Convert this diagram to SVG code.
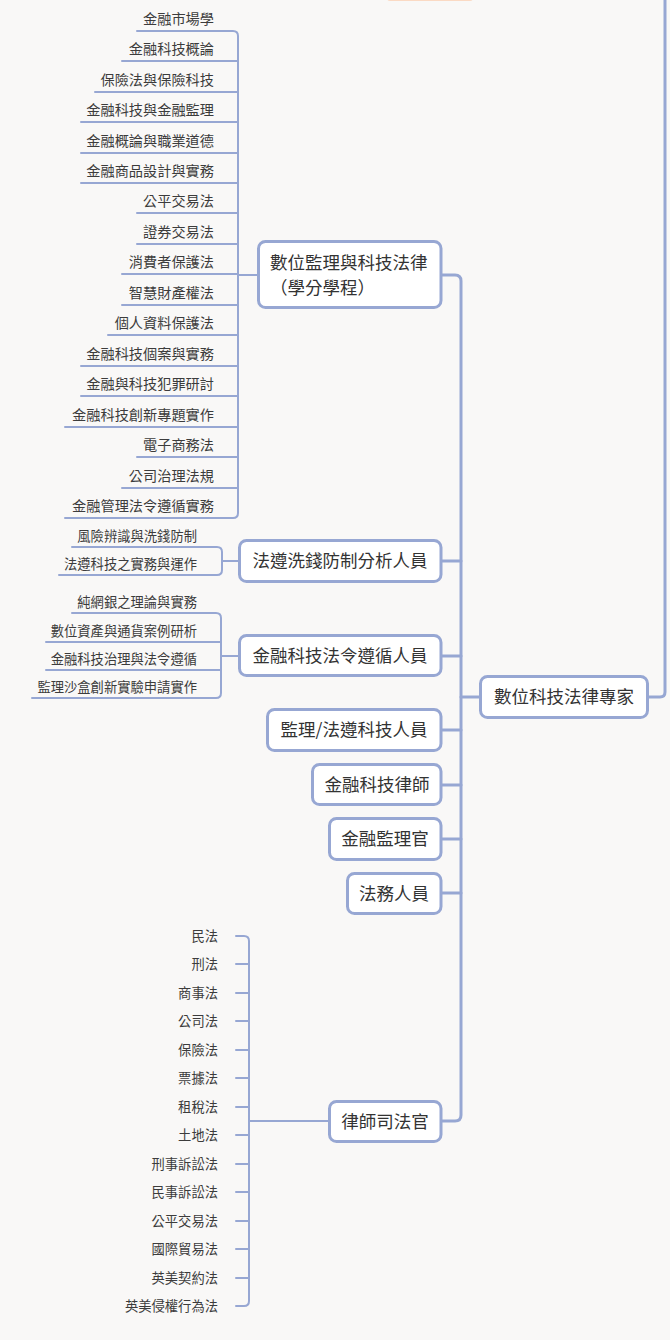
<svg xmlns="http://www.w3.org/2000/svg" width="670" height="1340" viewBox="0 0 670 1340">
<style>
.bg{fill:#F9F8F7}
.box{fill:#FFFFFF;stroke:#97A7D3;stroke-width:3}
.ln{fill:none;stroke:#97A7D3;stroke-width:2;stroke-linecap:round;stroke-linejoin:round}
.tk{fill:none;stroke:#97A7D3;stroke-width:3;stroke-linecap:round;stroke-linejoin:round}
.nt{font-family:"Noto Sans CJK TC","Noto Sans CJK SC",sans-serif;font-size:17.5px;fill:#333333}
.l1{font-family:"Noto Sans CJK TC","Noto Sans CJK SC",sans-serif;font-size:14.2px;fill:#3c3c3c;text-anchor:end}
.l2{font-family:"Noto Sans CJK TC","Noto Sans CJK SC",sans-serif;font-size:13.3px;fill:#3c3c3c;text-anchor:end}
</style>
<rect class="bg" x="0" y="0" width="670" height="1340"/>
<rect x="387" y="-10" width="86" height="11" rx="3" fill="#FBDAC4"/>

<g id="connectors">
  <!-- root to parent (off-canvas) -->
  <path class="tk" d="M649,697 H660 Q665,697 665,692 V-5"/>
  <!-- trunk -->
  <path class="tk" d="M441,275 H455 Q461,275 461,281 V1115 Q461,1121 455,1121 H441"/>
  <path class="tk" d="M441,561 H461 M441,656 H461 M441,730 H461 M441,785 H461 M441,839 H461 M441,893 H461 M479,697 H461"/>
  <!-- node 1 leaves -->
  <path class="ln" d="M137,31 H233 Q238,31 238,36 V513 Q238,518 233,518 H65"/>
  <path class="ln" d="M122,61 H238 M95,92 H238 M81,122 H238 M81,153 H238 M81,183 H238 M137,213 H238 M137,244 H238 M122,274 H238 M122,305 H238 M108,335 H238 M81,366 H238 M81,396 H238 M65,427 H238 M137,457 H238 M122,488 H238"/>
  <path class="ln" d="M238,275 H257"/>
  <!-- node 2 leaves -->
  <path class="ln" d="M72,547 H217 Q222,547 222,552 V570 Q222,575 217,575 H59"/>
  <path class="ln" d="M222,561 H238"/>
  <!-- node 3 leaves -->
  <path class="ln" d="M72,613 H216 Q221,613 221,618 V693 Q221,698 216,698 H32"/>
  <path class="ln" d="M46,642 H221 M46,670 H221 M221,656 H238"/>
  <!-- node 8 leaves -->
  <path class="ln" d="M236,936 H244 Q249,936 249,941 V1301 Q249,1306 244,1306 H236"/>
  <path class="ln" d="M236,964 H249 M236,993 H249 M236,1021 H249 M236,1050 H249 M236,1078 H249 M236,1107 H249 M236,1135 H249 M236,1164 H249 M236,1192 H249 M236,1221 H249 M236,1249 H249 M236,1278 H249 M249,1121 H328"/>
</g>

<g id="root">
  <rect class="box" x="480.5" y="676.5" width="167" height="41" rx="7"/>
  <text class="nt" x="564" y="703" text-anchor="middle">數位科技法律專家</text>
</g>

<g id="n1">
  <rect class="box" x="258.5" y="241.5" width="182.5" height="66" rx="7"/>
  <text class="nt" x="270" y="269">數位監理與科技法律</text>
  <text class="nt" x="270" y="294">（學分學程）</text>
</g>
<g id="n2">
  <rect class="box" x="239.5" y="540.5" width="201.5" height="41" rx="7"/>
  <text class="nt" x="340" y="567" text-anchor="middle">法遵洗錢防制分析人員</text>
</g>
<g id="n3">
  <rect class="box" x="239.5" y="635.5" width="201.5" height="40" rx="7"/>
  <text class="nt" x="340" y="662" text-anchor="middle">金融科技法令遵循人員</text>
</g>
<g id="n4">
  <rect class="box" x="267.5" y="709.5" width="173.5" height="41" rx="7"/>
  <text class="nt" x="354" y="736" text-anchor="middle">監理/法遵科技人員</text>
</g>
<g id="n5">
  <rect class="box" x="312.5" y="764.5" width="128.5" height="40" rx="7"/>
  <text class="nt" x="377" y="791" text-anchor="middle">金融科技律師</text>
</g>
<g id="n6">
  <rect class="box" x="329.5" y="818.5" width="111.5" height="41" rx="7"/>
  <text class="nt" x="385" y="845" text-anchor="middle">金融監理官</text>
</g>
<g id="n7">
  <rect class="box" x="347.5" y="873.5" width="93.5" height="40" rx="7"/>
  <text class="nt" x="394" y="900" text-anchor="middle">法務人員</text>
</g>
<g id="n8">
  <rect class="box" x="329.5" y="1101.5" width="111.5" height="40" rx="7"/>
  <text class="nt" x="385" y="1128" text-anchor="middle">律師司法官</text>
</g>

<g id="n1-leaves">
  <text class="l1" x="214" y="24">金融市場學</text>
  <text class="l1" x="214" y="54">金融科技概論</text>
  <text class="l1" x="214" y="85">保險法與保險科技</text>
  <text class="l1" x="214" y="115">金融科技與金融監理</text>
  <text class="l1" x="214" y="146">金融概論與職業道德</text>
  <text class="l1" x="214" y="176">金融商品設計與實務</text>
  <text class="l1" x="214" y="206">公平交易法</text>
  <text class="l1" x="214" y="237">證券交易法</text>
  <text class="l1" x="214" y="267">消費者保護法</text>
  <text class="l1" x="214" y="298">智慧財產權法</text>
  <text class="l1" x="214" y="328">個人資料保護法</text>
  <text class="l1" x="214" y="359">金融科技個案與實務</text>
  <text class="l1" x="214" y="389">金融與科技犯罪研討</text>
  <text class="l1" x="214" y="420">金融科技創新專題實作</text>
  <text class="l1" x="214" y="450">電子商務法</text>
  <text class="l1" x="214" y="481">公司治理法規</text>
  <text class="l1" x="214" y="511">金融管理法令遵循實務</text>
</g>

<g id="n2-leaves">
  <text class="l2" x="197" y="541">風險辨識與洗錢防制</text>
  <text class="l2" x="197" y="569">法遵科技之實務與運作</text>
</g>

<g id="n3-leaves">
  <text class="l2" x="197" y="607">純網銀之理論與實務</text>
  <text class="l2" x="197" y="636">數位資產與通貨案例研析</text>
  <text class="l2" x="197" y="664">金融科技治理與法令遵循</text>
  <text class="l2" x="197" y="692">監理沙盒創新實驗申請實作</text>
</g>

<g id="n8-leaves">
  <text class="l2" x="218" y="941">民法</text>
  <text class="l2" x="218" y="969">刑法</text>
  <text class="l2" x="218" y="998">商事法</text>
  <text class="l2" x="218" y="1026">公司法</text>
  <text class="l2" x="218" y="1055">保險法</text>
  <text class="l2" x="218" y="1083">票據法</text>
  <text class="l2" x="218" y="1112">租稅法</text>
  <text class="l2" x="218" y="1140">土地法</text>
  <text class="l2" x="218" y="1169">刑事訴訟法</text>
  <text class="l2" x="218" y="1197">民事訴訟法</text>
  <text class="l2" x="218" y="1226">公平交易法</text>
  <text class="l2" x="218" y="1254">國際貿易法</text>
  <text class="l2" x="218" y="1283">英美契約法</text>
  <text class="l2" x="218" y="1311">英美侵權行為法</text>
</g>
</svg>
